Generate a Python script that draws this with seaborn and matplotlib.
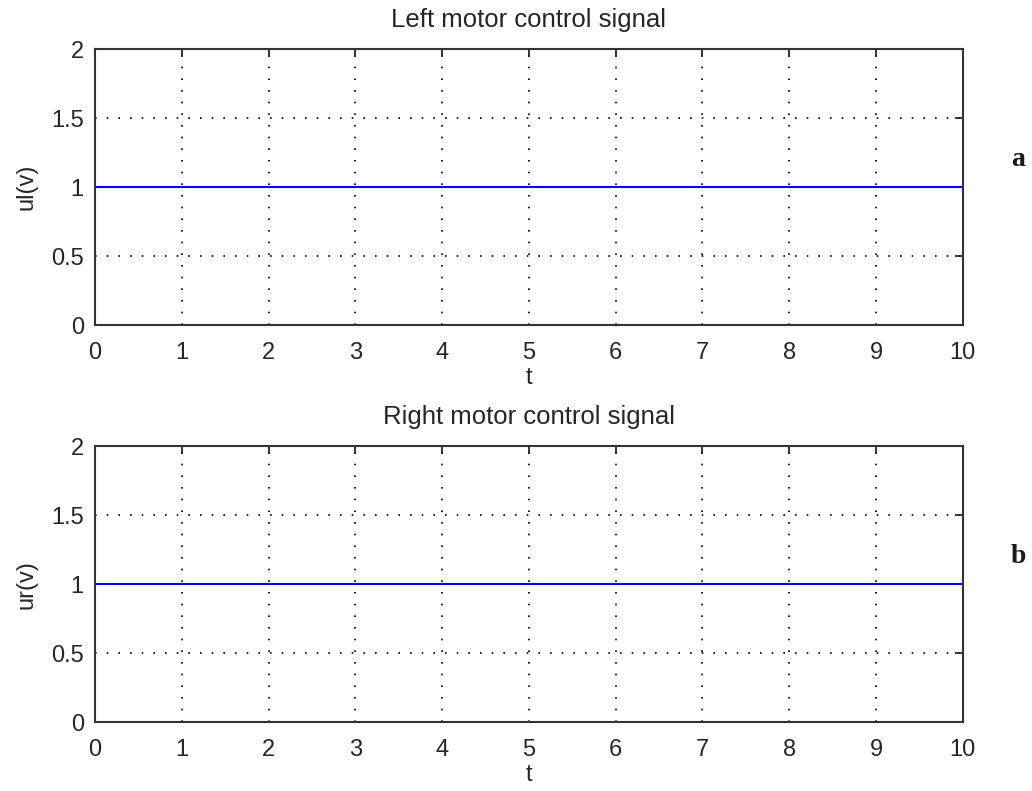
import matplotlib
matplotlib.use("Agg")
import matplotlib.pyplot as plt
import pandas as pd
import seaborn as sns

# Data
t = [0, 10]
ul = [1, 1]
ur = [1, 1]
x_ticks = [0, 1, 2, 3, 4, 5, 6, 7, 8, 9, 10]
y_ticks = [0, 0.5, 1, 1.5, 2]
y_tick_labels = ['0', '0.5', '1', '1.5', '2']
titles = ['Left motor control signal', 'Right motor control signal']
y_labels = ['ul(v)', 'ur(v)']
side_labels = ['a', 'b']

sns.set_style("white")
plt.rcParams['font.family'] = ['Liberation Sans', 'DejaVu Sans']

fig = plt.figure(figsize=(10.32, 7.91), dpi=100)
ax_top = fig.add_axes([0.092, 0.589, 0.841, 0.349])
ax_bot = fig.add_axes([0.092, 0.087, 0.841, 0.349])

signals = [ul, ur]
for i, ax in enumerate([ax_top, ax_bot]):
    df = pd.DataFrame({'t': t, 'u': signals[i]})
    sns.lineplot(data=df, x='t', y='u', ax=ax, color='#0000ff', linewidth=1.5)

    ax.set_xlim(0, 10)
    ax.set_ylim(0, 2)
    ax.set_xticks(x_ticks)
    ax.set_yticks(y_ticks)
    ax.set_yticklabels(y_tick_labels)
    ax.grid(True, color='black', linestyle=(0, (1, 6)), linewidth=1.2)
    ax.set_axisbelow(True)
    ax.tick_params(direction='in', length=6, width=1.3, top=True, right=True,
                   labelsize=17, colors='#262626')
    ax.tick_params(axis='x', pad=12)
    ax.tick_params(axis='y', pad=8)
    for s in ax.spines.values():
        s.set_color('#333333')
        s.set_linewidth(1.5)
        s.set_visible(True)
    ax.set_xlabel('t', fontsize=17, labelpad=2)
    ax.set_ylabel(y_labels[i], fontsize=17, labelpad=10)
    ax.set_title(titles[i], fontsize=18.5, pad=16)
    # side labels a / b
    ax.text(1.064, 0.6, side_labels[i], transform=ax.transAxes,
            fontsize=20, family='Liberation Serif', fontweight='bold',
            color='#1a1a1a', ha='center', va='center')

fig.savefig('out.png', dpi=100)
